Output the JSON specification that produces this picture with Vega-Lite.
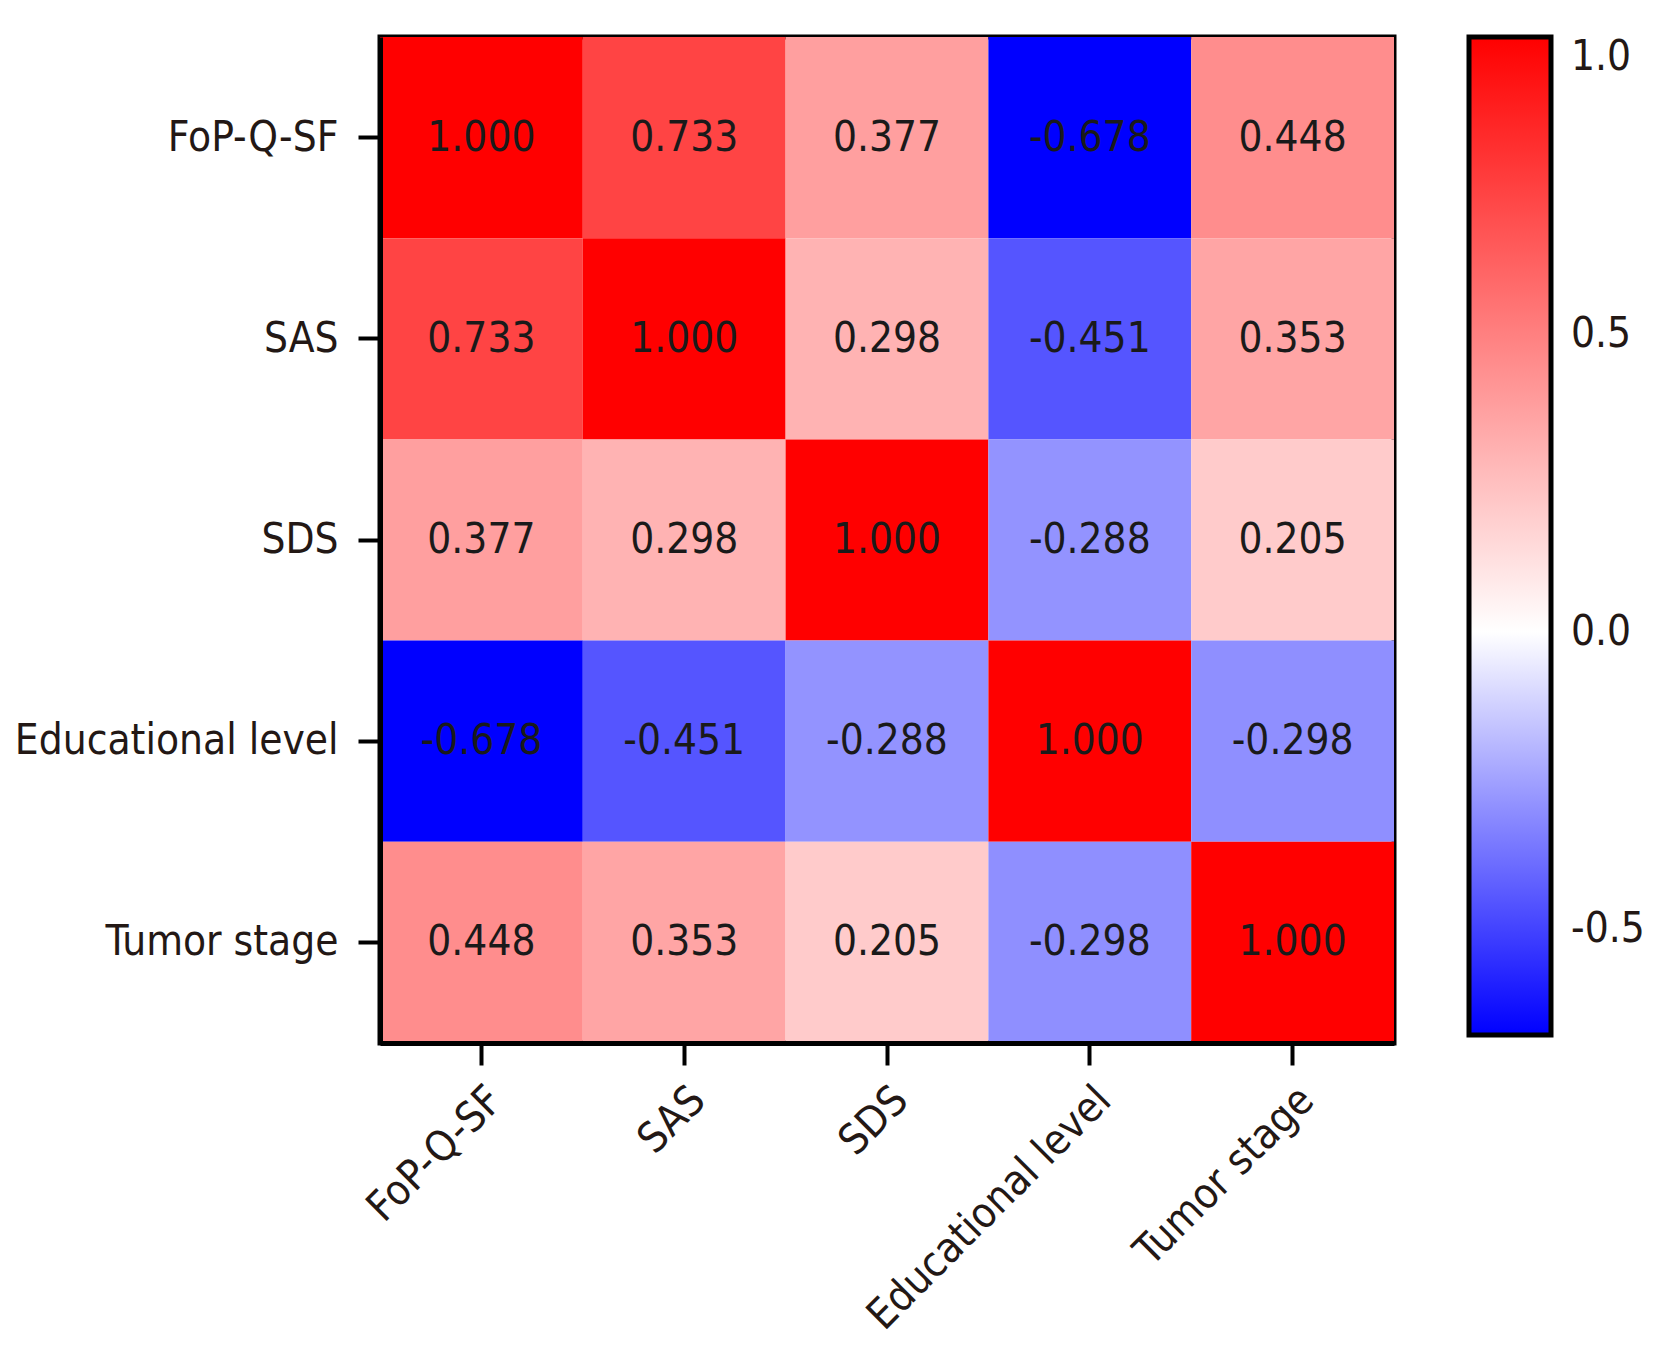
{
  "$schema": "https://vega.github.io/schema/vega-lite/v6.json",
  "autosize": {"type": "none"},
  "padding": {"left": 380, "top": 37, "right": 271, "bottom": 304},
  "width": 1014,
  "height": 1006,
  "background": "white",
  "data": {
    "values": [
      {"row": "FoP-Q-SF", "col": "FoP-Q-SF", "r": 1.0},
      {"row": "FoP-Q-SF", "col": "SAS", "r": 0.733},
      {"row": "FoP-Q-SF", "col": "SDS", "r": 0.377},
      {"row": "FoP-Q-SF", "col": "Educational level", "r": -0.678},
      {"row": "FoP-Q-SF", "col": "Tumor stage", "r": 0.448},
      {"row": "SAS", "col": "FoP-Q-SF", "r": 0.733},
      {"row": "SAS", "col": "SAS", "r": 1.0},
      {"row": "SAS", "col": "SDS", "r": 0.298},
      {"row": "SAS", "col": "Educational level", "r": -0.451},
      {"row": "SAS", "col": "Tumor stage", "r": 0.353},
      {"row": "SDS", "col": "FoP-Q-SF", "r": 0.377},
      {"row": "SDS", "col": "SAS", "r": 0.298},
      {"row": "SDS", "col": "SDS", "r": 1.0},
      {"row": "SDS", "col": "Educational level", "r": -0.288},
      {"row": "SDS", "col": "Tumor stage", "r": 0.205},
      {"row": "Educational level", "col": "FoP-Q-SF", "r": -0.678},
      {"row": "Educational level", "col": "SAS", "r": -0.451},
      {"row": "Educational level", "col": "SDS", "r": -0.288},
      {"row": "Educational level", "col": "Educational level", "r": 1.0},
      {"row": "Educational level", "col": "Tumor stage", "r": -0.298},
      {"row": "Tumor stage", "col": "FoP-Q-SF", "r": 0.448},
      {"row": "Tumor stage", "col": "SAS", "r": 0.353},
      {"row": "Tumor stage", "col": "SDS", "r": 0.205},
      {"row": "Tumor stage", "col": "Educational level", "r": -0.298},
      {"row": "Tumor stage", "col": "Tumor stage", "r": 1.0}
    ]
  },
  "encoding": {
    "x": {
      "field": "col", "type": "nominal",
      "sort": ["FoP-Q-SF", "SAS", "SDS", "Educational level", "Tumor stage"],
      "scale": {"paddingInner": 0, "paddingOuter": 0},
      "axis": {
        "title": null, "labelAngle": -45, "labelFontSize": 42, "labelLimit": 0,
        "labelFont": "DejaVu Sans Condensed, DejaVu Sans", "labelColor": "#231815",
        "tickSize": 22, "tickWidth": 4, "tickColor": "black",
        "domainColor": "black", "domainWidth": 5, "labelPadding": 14, "grid": false
      }
    },
    "y": {
      "field": "row", "type": "nominal",
      "sort": ["FoP-Q-SF", "SAS", "SDS", "Educational level", "Tumor stage"],
      "scale": {"paddingInner": 0, "paddingOuter": 0},
      "axis": {
        "title": null, "labelFontSize": 42, "labelLimit": 0,
        "labelFont": "DejaVu Sans Condensed, DejaVu Sans", "labelColor": "#231815",
        "tickSize": 22, "tickWidth": 4, "tickColor": "black",
        "domainColor": "black", "domainWidth": 5, "labelPadding": 20, "grid": false
      }
    }
  },
  "layer": [
    {
      "mark": {"type": "rect"},
      "encoding": {
        "color": {
          "field": "r", "type": "quantitative",
          "scale": {"domain": [-0.678, 0, 1], "range": ["#0000ff", "#ffffff", "#ff0000"], "interpolate": "rgb"},
          "legend": {
            "title": null, "orient": "none", "legendX": 1089, "legendY": 0,
            "direction": "vertical",
            "gradientLength": 998, "gradientThickness": 82,
            "gradientStrokeColor": "black", "gradientStrokeWidth": 5,
            "values": [-0.5, 0, 0.5, 1], "format": ".1f",
            "labelFontSize": 42, "labelFont": "DejaVu Sans Condensed, DejaVu Sans",
            "labelColor": "#231815", "labelOffset": 20, "labelBaseline": "middle"
          }
        }
      }
    },
    {
      "mark": {"type": "text", "fontSize": 42, "font": "DejaVu Sans Condensed, DejaVu Sans", "color": "#1a1a1a"},
      "encoding": {
        "text": {"field": "r", "type": "quantitative", "format": ".3f"}
      }
    }
  ],
  "config": {
    "view": {"stroke": "black", "strokeWidth": 5},
    "locale": {
      "number": {"decimal": ".", "thousands": ",", "grouping": [3], "currency": ["$", ""], "minus": "-"}
    }
  }
}
